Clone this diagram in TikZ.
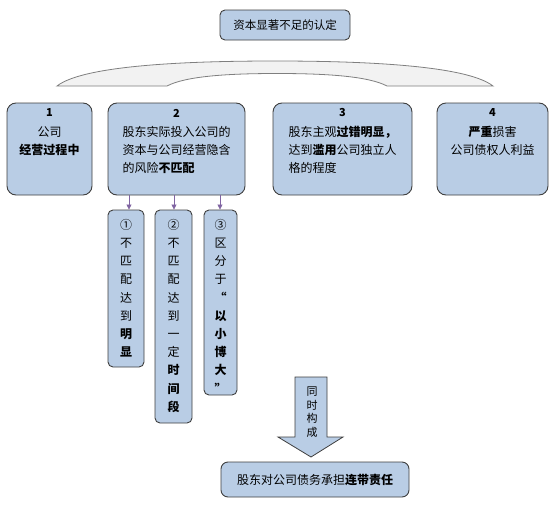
\documentclass[tikz,border=0pt]{standalone}
\usepackage{fontspec}
\setmainfont{Noto Sans CJK SC}
\usetikzlibrary{arrows.meta,calc}
\definecolor{boxfill}{HTML}{B9CDE5}
\definecolor{boxline}{HTML}{3F3F3F}
\definecolor{arrowpurple}{HTML}{8064A2}
\definecolor{bracefill}{HTML}{F2F2F2}
\definecolor{braceline}{HTML}{7F7F7F}
\begin{document}
\begin{tikzpicture}[x=1pt,y=-1pt,
  mainbox/.style={draw=boxline,fill=boxfill,line width=0.9pt,rounded corners=9pt,inner sep=0pt},
  subbox/.style={draw=boxline,fill=boxfill,line width=0.9pt,rounded corners=5pt,inner sep=0pt},
  txt/.style={inner sep=0pt,font={\fontsize{12}{18}\selectfont}},
  numtxt/.style={inner sep=0pt,font={\fontsize{11}{13}\selectfont\bfseries}},
  vtxt/.style={inner sep=0pt,align=center,font={\fontsize{12}{18.2}\selectfont}},
  subarrow/.style={draw=arrowpurple,line width=0.8pt,-{Triangle[length=5pt,width=5pt]}}]
\useasboundingbox (0,0) rectangle (554,506);
% title
\node[mainbox,rounded corners=5pt,minimum width=130pt,minimum height=30pt,
  font={\fontsize{11.5}{14}\selectfont}] (top) at (285,25) {资本显著不足的认定};
% brace
\draw[draw=braceline,fill=bracefill,line width=0.8pt]
  (57,86) .. controls (85,64) and (200,61) .. (275,61)
  .. controls (350,61) and (465,64) .. (493,86) -- (387,86)
  .. controls (368,76) and (325,73.5) .. (277,73.5)
  .. controls (229,73.5) and (186,76) .. (167,86) -- cycle;
% main boxes
\node[mainbox,minimum width=85pt,minimum height=92pt] (b1) at (49.5,149) {};
\node[mainbox,minimum width=137pt,minimum height=92pt] (b2) at (176.5,149) {};
\node[mainbox,minimum width=139pt,minimum height=92pt] (b3) at (342.5,149) {};
\node[mainbox,minimum width=111pt,minimum height=92pt] (b4) at (492.5,149) {};
\node[numtxt] (n1) at (49.5,113) {1};
\node[numtxt] (n2) at (176.5,113) {2};
\node[numtxt] (n3) at (342.5,113) {3};
\node[numtxt] (n4) at (492.5,113) {4};
\node[txt,align=center,anchor=north] (t1) at (49.5,126) {公司\\\textbf{经营过程中}};
\node[txt,align=left,anchor=north] (t2) at (176.5,126) {股东实际投入公司的\\资本与公司经营隐含\\的风险\textbf{不匹配}};
\node[txt,align=left,anchor=north] (t3) at (342.5,126) {股东主观\textbf{过错明显，}\\达到\textbf{滥用}公司独立人\\格的程度};
\node[txt,align=center,anchor=north] (t4) at (492.5,126) {\textbf{严重}损害\\公司债权人利益};
% sub boxes
\node[subbox,minimum width=36pt,minimum height=157pt] (s1) at (126,288.5) {};
\node[subbox,minimum width=37pt,minimum height=213pt] (s2) at (173.5,316.5) {};
\node[subbox,minimum width=33pt,minimum height=185pt] (s3) at (220.5,302.5) {};
\node[vtxt,anchor=north] (v1) at (126,219) {①\\不\\匹\\配\\达\\到\\\textbf{明}\\\textbf{显}};
\node[vtxt,anchor=north] (v2) at (173.5,219) {②\\不\\匹\\配\\达\\到\\一\\定\\\textbf{时}\\\textbf{间}\\\textbf{段}};
\node[vtxt,anchor=north] (v3) at (220.5,219) {③\\区\\分\\于\\\textbf{“}\\\textbf{以}\\\textbf{小}\\\textbf{博}\\\textbf{大}\\\textbf{”}};
% purple arrows
\coordinate (a1) at (129,195);
\coordinate (a2) at (174,195);
\coordinate (a3) at (220,195);
\draw[subarrow] (a1) -- (a1 |- s1.north);
\draw[subarrow] (a2) -- (a2 |- s2.north);
\draw[subarrow] (a3) -- (a3 |- s3.north);
% big arrow
\draw[draw=boxline,fill=boxfill,line width=0.8pt,line join=miter]
  (295,377) -- (327,377) -- (327,437) -- (343,437) -- (311,457) -- (278,437) -- (295,437) -- cycle;
\node[inner sep=0pt,align=center,anchor=north,font={\fontsize{11}{13.5}\selectfont}] (arrtxt) at (312,387) {同\\时\\构\\成};
% bottom box
\node[mainbox,rounded corners=7pt,minimum width=188pt,minimum height=35pt,
  font={\fontsize{12}{14}\selectfont}] (bottom) at (315,479.5) {股东对公司债务承担\textbf{连带责任}};
\end{tikzpicture}
\end{document}
